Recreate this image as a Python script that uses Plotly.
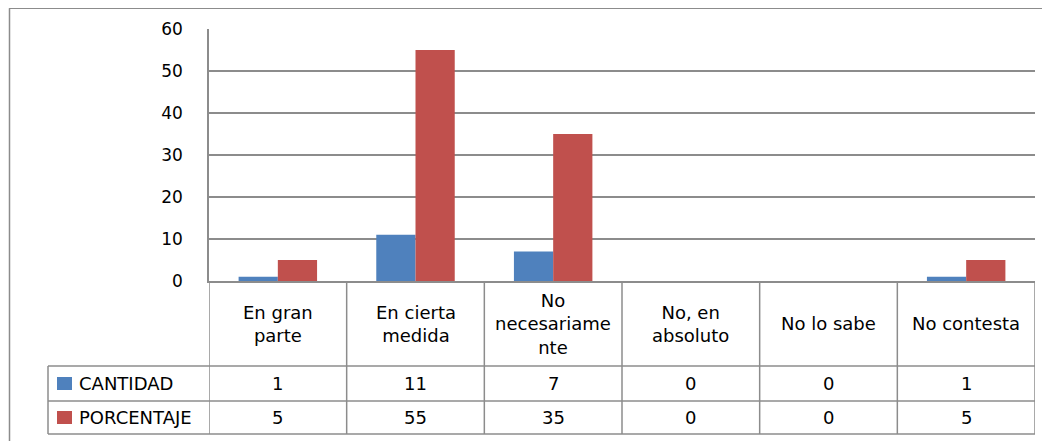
import plotly.graph_objects as go

categories = ["En gran<br>parte", "En cierta<br>medida", "No<br>necesariame<br>nte",
              "No, en<br>absoluto", "No lo sabe", "No contesta"]
series_names = ["CANTIDAD", "PORCENTAJE"]
cantidad = [1, 11, 7, 0, 0, 1]
porcentaje = [5, 55, 35, 0, 0, 5]
series_values = [cantidad, porcentaje]
colors = ["#4F81BD", "#C0504D"]
y_ticks = [0, 10, 20, 30, 40, 50, 60]

OFF = 8                      # page body margin offset
W, H = 1050 - OFF, 441 - OFF
PL, PR, PT, PB = 209, 1035, 29, 281   # plot area in reference-page pixels
FONT = "DejaVu Sans"
TFS = 18
GRID = "#8C8C8C"

def px(x):
    return (x - PL) / (PR - PL)

def py(y):
    return (PB - y) / (PB - PT)

xs = list(range(len(categories)))
fig = go.Figure()
for name, vals, col in zip(series_names, series_values, colors):
    fig.add_trace(go.Bar(x=xs, y=vals, name=name, marker=dict(color=col, line=dict(width=0)),
                         showlegend=False))

shapes = []
line = dict(color=GRID, width=1.5)
# outer chart border (left and top)
shapes.append(dict(type="line", xref="paper", yref="paper", x0=px(9), x1=px(1060), y0=py(8.2), y1=py(8.2), line=line))
shapes.append(dict(type="line", xref="paper", yref="paper", x0=px(9.5), x1=px(9.5), y0=py(8.2), y1=py(460), line=line))

# table: row boundaries
ROW_TOP, ROW1, ROW2, ROW_BOT = PB, 366, 401, 434
LEG_L = 48
for yy, x0 in [(ROW1, LEG_L), (ROW2, LEG_L), (ROW_BOT, LEG_L)]:
    shapes.append(dict(type="line", xref="paper", yref="paper", x0=px(x0), x1=1, y0=py(yy), y1=py(yy), line=line))
shapes.append(dict(type="line", xref="paper", yref="paper", x0=px(LEG_L), x1=px(LEG_L), y0=py(ROW1), y1=py(ROW_BOT), line=line))
# category column boundaries (through the x axis)
for i in range(len(categories) + 1):
    shapes.append(dict(type="line", xref="x", yref="paper", x0=i - 0.5, x1=i - 0.5,
                       y0=0, y1=py(ROW_BOT), line=line))

annotations = []
for i, cat in enumerate(categories):
    annotations.append(dict(x=i, xref="x", y=py((ROW_TOP + ROW1) / 2), yref="paper", text=cat,
                            showarrow=False, xanchor="center", yanchor="middle",
                            font=dict(family=FONT, size=TFS, color="black")))
row_centers = [(ROW1 + ROW2) / 2, (ROW2 + ROW_BOT) / 2]
for r, (name, vals, col) in enumerate(zip(series_names, series_values, colors)):
    yc = row_centers[r]
    for i, v in enumerate(vals):
        annotations.append(dict(x=i, xref="x", y=py(yc), yref="paper", text=str(v), showarrow=False,
                                xanchor="center", yanchor="middle",
                                font=dict(family=FONT, size=TFS, color="black")))
    shapes.append(dict(type="rect", xref="paper", yref="paper", x0=px(57), x1=px(72),
                       y0=py(yc - 6.5), y1=py(yc + 6.5), fillcolor=col, line=dict(width=0)))
    annotations.append(dict(x=px(77), xref="paper", y=py(yc), yref="paper", text=name, showarrow=False,
                            xanchor="left", yanchor="middle",
                            font=dict(family=FONT, size=TFS, color="black")))

fig.update_layout(
    width=W, height=H,
    margin=dict(l=PL - OFF, r=W - (PR - OFF), t=PT - OFF, b=H - (PB - OFF), pad=0),
    paper_bgcolor="white", plot_bgcolor="white",
    barmode="group", bargap=0.43, bargroupgap=0,
    shapes=shapes, annotations=annotations,
    font=dict(family=FONT, size=17, color="black"),
    xaxis=dict(range=[-0.5, len(categories) - 0.5], showticklabels=False, showgrid=False,
               zeroline=False, showline=True, linecolor=GRID, linewidth=1.5, fixedrange=True),
    yaxis=dict(range=[0, 60], tickvals=y_ticks, showgrid=True, gridcolor=GRID, gridwidth=1.5,
               zeroline=False, showline=True, linecolor=GRID, linewidth=1.5,
               ticklabelstandoff=21, tickfont=dict(family=FONT, size=17, color="black")),
)

fig.write_html("out.html")
